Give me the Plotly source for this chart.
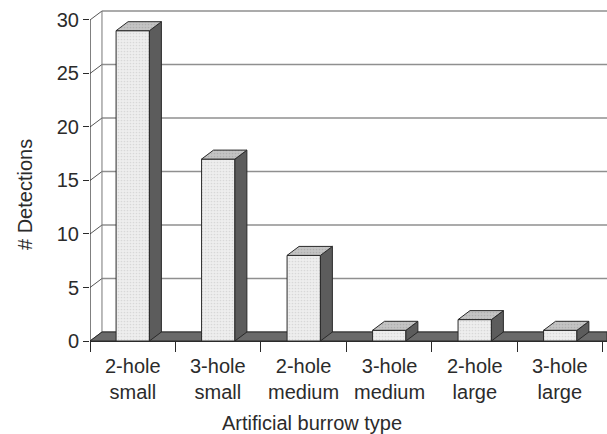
import plotly.graph_objects as go

# Detections per artificial burrow type
categories = ["2-hole<br>small", "3-hole<br>small", "2-hole<br>medium",
              "3-hole<br>medium", "2-hole<br>large", "3-hole<br>large"]
detections = [29, 17, 8, 1, 2, 1]
y_ticks = [0, 5, 10, 15, 20, 25, 30]

# Pseudo-3D geometry (data units)
BAR_W = 0.39     # width of a column's front face, in categories
DX = 0.14        # depth shift along x
DY = 0.84        # depth shift along y
X0, X1 = -0.5, 5.547
Y_TOP = 31.12

TEXT = "#2b2b2b"
EDGE = "#2a2a2a"
FONT = "Liberation Sans, Arial, sans-serif"

idx = list(range(len(detections)))
shapes = []

# back wall gridlines and left-wall diagonals
for v in y_ticks:
    shapes.append(dict(type="line", layer="below", x0=X0 + DX, x1=X1, y0=v + DY, y1=v + DY,
                       line=dict(color="#8f8f8f", width=1.4)))
    shapes.append(dict(type="line", layer="below", x0=X0, x1=X0 + DX, y0=v, y1=v + DY,
                       line=dict(color="#555555", width=1)))
shapes.append(dict(type="line", layer="below", x0=X0 + DX, x1=X0 + DX, y0=DY, y1=y_ticks[-1] + DY,
                   line=dict(color="#777777", width=1)))
# front value-axis line
shapes.append(dict(type="line", layer="below", x0=X0, x1=X0, y0=0, y1=y_ticks[-1],
                   line=dict(color=EDGE, width=1.2)))
# floor slab
shapes.append(dict(type="path", layer="below",
                   path=f"M {X0},0 L {X1},0 L {X1},{DY} L {X0 + DX},{DY} Z",
                   fillcolor="#6a6a6a", line=dict(color=EDGE, width=1)))

fig = go.Figure()

# column fronts
fig.add_trace(go.Bar(
    x=idx, y=detections, width=BAR_W,
    marker=dict(color="#eeeeee", line=dict(color=EDGE, width=1),
                pattern=dict(shape=".", fgcolor="#c2c2c2", bgcolor="#eeeeee",
                             size=3, solidity=0.25)),
    hoverinfo="skip", showlegend=False,
))

# column sides and tops
side_x, side_y, top_x, top_y = [], [], [], []
for i, v in zip(idx, detections):
    r = i + BAR_W / 2
    l = i - BAR_W / 2
    side_x += [r, r + DX, r + DX, r, r, None]
    side_y += [0, DY, v + DY, v, 0, None]
    top_x += [l, r, r + DX, l + DX, l, None]
    top_y += [v, v, v + DY, v + DY, v, None]

fig.add_trace(go.Scatter(
    x=side_x, y=side_y, mode="lines", fill="toself", fillcolor="#5c5c5c",
    line=dict(color=EDGE, width=1), hoverinfo="skip", showlegend=False,
))
fig.add_trace(go.Scatter(
    x=top_x, y=top_y, mode="lines", fill="toself", fillcolor="#c4c4c4",
    fillpattern=dict(shape=".", fgcolor="#999999", bgcolor="#c4c4c4", size=3, solidity=0.25),
    line=dict(color=EDGE, width=1), hoverinfo="skip", showlegend=False,
))

annotations = []
for i, label in zip(idx, categories):
    annotations.append(dict(x=i, y=0, xref="x", yref="y", text=label, showarrow=False,
                            yanchor="top", yshift=-12,
                            font=dict(size=20, color=TEXT, family=FONT)))
annotations.append(dict(x=0.43, y=-0.246, xref="paper", yref="paper",
                        text="Artificial burrow type", showarrow=False,
                        xanchor="center", yanchor="middle",
                        font=dict(size=20, color=TEXT, family=FONT)))
annotations.append(dict(x=-0.126, y=0.441, xref="paper", yref="paper",
                        text="# Detections", showarrow=False, textangle=-90,
                        xanchor="center", yanchor="middle",
                        font=dict(size=20, color=TEXT, family=FONT)))

fig.update_layout(
    width=607, height=434,
    margin=dict(l=90, r=0, t=8, b=93),
    paper_bgcolor="white", plot_bgcolor="white",
    shapes=shapes, annotations=annotations,
    xaxis=dict(range=[X0, X1], tickvals=[k - 0.5 for k in range(len(detections) + 1)],
               ticktext=[""] * (len(detections) + 1), ticks="outside", ticklen=10,
               tickcolor=EDGE, showline=True, linecolor=EDGE, linewidth=1.2,
               showgrid=False, zeroline=False, fixedrange=True),
    yaxis=dict(range=[0, Y_TOP], tickvals=y_ticks, ticks="outside", ticklen=6,
               tickcolor=EDGE, showline=False, showgrid=False, zeroline=False,
               tickfont=dict(size=20, color=TEXT, family=FONT), fixedrange=True),
    font=dict(family=FONT, color=TEXT),
)

fig.write_html("out.html")
